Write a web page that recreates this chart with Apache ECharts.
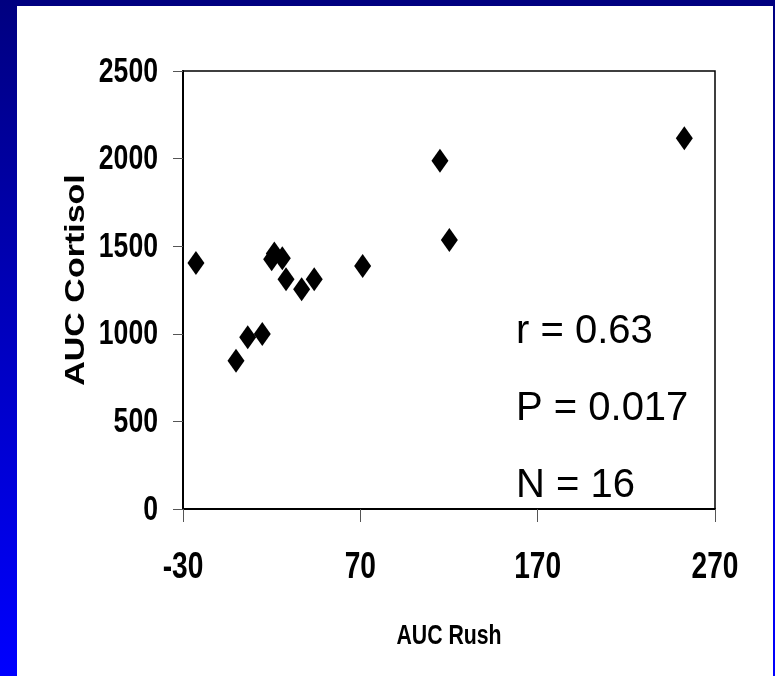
<!DOCTYPE html>
<html>
<head>
<meta charset="utf-8">
<script src="https://cdn.jsdelivr.net/npm/echarts@6/dist/echarts.min.js"></script>
<style>
  html, body { margin: 0; padding: 0; background: #fff; }
  #chart { width: 775px; height: 676px; }
</style>
</head>
<body>
<div id="chart"></div>
<script>
// AUC of the rush score against AUC of cortisol, one diamond per subject
const aucRush     = [-22.7, 21.5, 20.0, 26.0, 28.1, 36.9, 44.0, 71.3, 114.9, 120.2, -0.1, 6.5, 14.7, 252.7];
const aucCortisol = [1404, 1459, 1425, 1431, 1311, 1254, 1311, 1387, 1988, 1535, 846, 980, 999, 2116];

// axis ranges and tick labels
const xRange = { min: -30, max: 270, step: 100 };
const yRange = { min: 0, max: 2500, step: 500 };
const xTickLabels = [-30, 70, 170, 270];
const yTickLabels = [0, 500, 1000, 1500, 2000, 2500];

// statistics printed inside the plot
const statLines = ['r = 0.63', 'P = 0.017', 'N = 16'];

const boldFont = (size) => 'bold ' + size + 'px "Liberation Sans", Arial, sans-serif';
// the slide's axis text is horizontally condensed
const NARROW = 0.76;

const points = aucRush.map((x, i) => [x, aucCortisol[i]]);

const chart = echarts.init(document.getElementById('chart'), null, { renderer: 'canvas' });

const frame = [
  // slide frame: dark top band, graded blue strip down the left, thin line on the right
  { id: 'topBand', type: 'rect', left: 0, top: 0, z: -10, shape: { width: 775, height: 6 }, style: { fill: '#000080' } },
  {
    id: 'leftBand', type: 'rect', left: 0, top: 0, z: -10, shape: { width: 17, height: 676 },
    style: { fill: new echarts.graphic.LinearGradient(0, 0, 0, 1, [
      { offset: 0, color: '#000080' }, { offset: 1, color: '#0000ff' }
    ]) }
  },
  {
    id: 'rightBand', type: 'rect', left: 773, top: 0, z: -10, shape: { width: 2, height: 676 },
    style: { fill: new echarts.graphic.LinearGradient(0, 0, 0, 1, [
      { offset: 0, color: '#000080' }, { offset: 1, color: '#0000ff' }
    ]) }
  }
];

const statGraphics = statLines.map((t, i) => ({
  id: 'stat' + i,
  type: 'text',
  x: 516,
  y: 332 + i * 77,
  z: 10,
  style: {
    text: t,
    fill: '#000',
    font: '40px "Liberation Sans", Arial, sans-serif',
    textAlign: 'left',
    textVerticalAlign: 'middle'
  }
}));

const titles = [
  {
    id: 'yTitle', type: 'text',
    x: 76, y: 280,
    rotation: Math.PI / 2,
    scaleY: 0.8,
    z: 10,
    style: { text: 'AUC Cortisol', fill: '#000', font: boldFont(34), textAlign: 'center', textVerticalAlign: 'middle' }
  },
  {
    id: 'xTitle', type: 'text',
    x: 449, y: 636,
    scaleX: NARROW,
    z: 10,
    style: { text: 'AUC Rush', fill: '#000', font: boldFont(28), textAlign: 'center', textVerticalAlign: 'middle' }
  }
];

chart.setOption({
  animation: false,
  backgroundColor: '#ffffff',
  grid: {
    left: 183, top: 71, right: 60, bottom: 167,
    show: true, borderColor: '#000', borderWidth: 1.5, backgroundColor: 'transparent'
  },
  xAxis: {
    type: 'value',
    min: xRange.min, max: xRange.max, interval: xRange.step,
    axisLine: { onZero: false, lineStyle: { color: '#000', width: 2 } },
    axisTick: { show: true, inside: false, length: 13, lineStyle: { color: '#555', width: 1 } },
    axisLabel: { show: false },
    splitLine: { show: false }
  },
  yAxis: {
    type: 'value',
    min: yRange.min, max: yRange.max, interval: yRange.step,
    axisLine: { show: true, onZero: false, lineStyle: { color: '#000', width: 2 } },
    axisTick: { show: true, inside: false, length: 10, lineStyle: { color: '#555', width: 1 } },
    axisLabel: { show: false },
    splitLine: { show: false }
  },
  graphic: frame.concat(titles, statGraphics),
  series: [{
    type: 'scatter',
    data: points,
    symbol: 'diamond',
    symbolSize: [17, 24],
    itemStyle: { color: '#000', opacity: 1 }
  }]
});

// Tick labels in the condensed bold face, placed through the axis scales
const xAxisY = chart.convertToPixel({ yAxisIndex: 0 }, yRange.min);
const yAxisX = chart.convertToPixel({ xAxisIndex: 0 }, xRange.min);

const xLabelGraphics = xTickLabels.map((v, i) => ({
  id: 'xLabel' + i, type: 'text',
  x: chart.convertToPixel({ xAxisIndex: 0 }, v),
  y: xAxisY + 59,
  scaleX: NARROW,
  z: 10,
  style: { text: String(v), fill: '#000', font: boldFont(37), textAlign: 'center', textVerticalAlign: 'middle' }
}));

const yLabelGraphics = yTickLabels.map((v, i) => ({
  id: 'yLabel' + i, type: 'text',
  x: yAxisX - 25,
  y: chart.convertToPixel({ yAxisIndex: 0 }, v) + 1,
  scaleX: NARROW,
  z: 10,
  style: { text: String(v), fill: '#000', font: boldFont(35), textAlign: 'right', textVerticalAlign: 'middle' }
}));

chart.setOption({ graphic: xLabelGraphics.concat(yLabelGraphics) });
</script>
</body>
</html>
